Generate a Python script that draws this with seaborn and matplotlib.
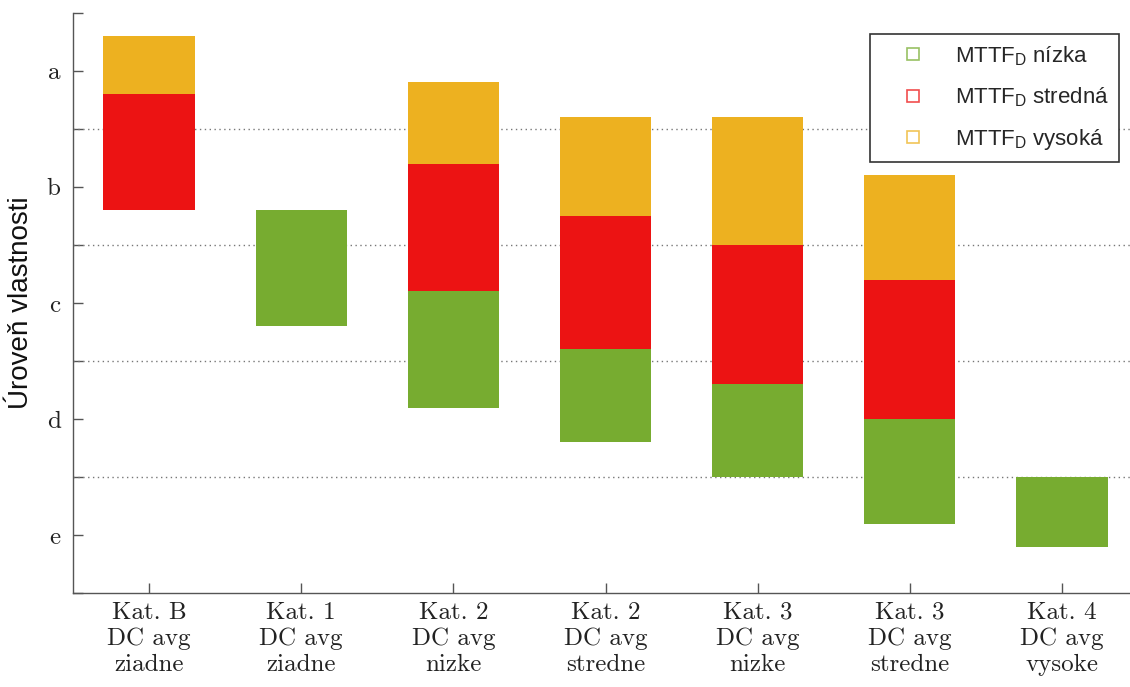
import numpy as np
import pandas as pd
import matplotlib.pyplot as plt
from matplotlib.lines import Line2D
import seaborn as sns

# Categories (safety category + diagnostic coverage)
categories = ["Kat. B\nDC avg\nziadne", "Kat. 1\nDC avg\nziadne", "Kat. 2\nDC avg\nnizke",
              "Kat. 2\nDC avg\nstredne", "Kat. 3\nDC avg\nnizke", "Kat. 3\nDC avg\nstredne",
              "Kat. 4\nDC avg\nvysoke"]

# Performance levels on the y axis (e = 1 ... a = 5)
level_values = [1, 2, 3, 4, 5]
level_labels = ["e", "d", "c", "b", "a"]

# Floating bar ranges (lower / upper edge) for each MTTF_D class
low_bottom = [np.nan, 2.8, 2.1, 1.8, 1.5, 1.1, 0.9]
low_top = [np.nan, 3.8, 3.1, 2.6, 2.3, 2.0, 1.5]
mid_bottom = [3.8, np.nan, 3.1, 2.6, 2.3, 2.0, np.nan]
mid_top = [4.8, np.nan, 4.2, 3.75, 3.5, 3.2, np.nan]
high_bottom = [4.8, np.nan, 4.2, 3.75, 3.5, 3.2, np.nan]
high_top = [5.3, np.nan, 4.9, 4.6, 4.6, 4.1, np.nan]

series_names = ["MTTF$_\\mathregular{D}$ nízka", "MTTF$_\\mathregular{D}$ stredná", "MTTF$_\\mathregular{D}$ vysoká"]
series_colors = ["#77AC30", "#EC1313", "#EDB120"]

sns.set_style("ticks")
plt.rcParams['font.family'] = ['Liberation Sans', 'DejaVu Sans']

fig = plt.figure(figsize=(11.3, 6.87), dpi=100)
ax = fig.add_axes([73/1130, 1-593.3/687, (1138-73)/1130, (593.3-12.7)/687])

ranges = [(low_bottom, low_top), (mid_bottom, mid_top), (high_bottom, high_top)]
for (lo, hi), col in zip(ranges, series_colors):
    df = pd.DataFrame({"cat": categories, "lo": lo, "hi": hi})
    df["h"] = (df["hi"] - df["lo"]).fillna(0)
    df["lo"] = df["lo"].fillna(0)
    sns.barplot(data=df, x="cat", y="h", bottom=df["lo"].to_numpy(), order=categories,
                color=col, saturation=1, width=0.6, errorbar=None, linewidth=0,
                ax=ax, zorder=2)

# dotted lines between the levels
for v in [1.5, 2.5, 3.5, 4.5]:
    ax.axhline(v, color="#777777", lw=1, ls=(0, (1, 2.5)), zorder=1)

ax.set_xlim(-0.5, len(categories) - 0.5)
ax.set_ylim(0.5, 5.5)
ax.set_yticks(level_values, level_labels)
ax.set_yticks([0.5, 1.5, 2.5, 3.5, 4.5, 5.5], minor=True)
ax.tick_params(which="both", direction="in", length=7, width=1, color="#555555")
ax.tick_params(axis="y", pad=9)
ax.tick_params(axis="x", pad=6)
for lab in ax.get_xticklabels() + ax.get_yticklabels():
    lab.set_fontfamily(["cmr10", "DejaVu Serif"])
    lab.set_fontsize(18)
    lab.set_linespacing(1.22)
    lab.set_color("#222222")

sns.despine(ax=ax)
for s in ["left", "bottom"]:
    ax.spines[s].set_color("#555555")
    ax.spines[s].set_linewidth(1.0)

ax.set_xlabel("")
ax.set_ylabel("Úroveň vlastnosti", fontsize=20, labelpad=9, color="#111111")

handles = [Line2D([], [], marker="s", linestyle="none", markerfacecolor="none",
                  markeredgecolor=c, markeredgewidth=1.2, markersize=9, alpha=0.75)
           for c in series_colors]
leg = ax.legend(handles, series_names, loc="upper right",
                bbox_to_anchor=(1119/1130, 1-34/687), bbox_transform=fig.transFigure,
                fontsize=16, frameon=True, fancybox=False, edgecolor="#333333",
                framealpha=1, borderpad=0.45, handlelength=3.0, handletextpad=0.4,
                labelspacing=0.8, borderaxespad=0)
leg.get_frame().set_linewidth(1.2)

fig.savefig("out.png", dpi=100)
